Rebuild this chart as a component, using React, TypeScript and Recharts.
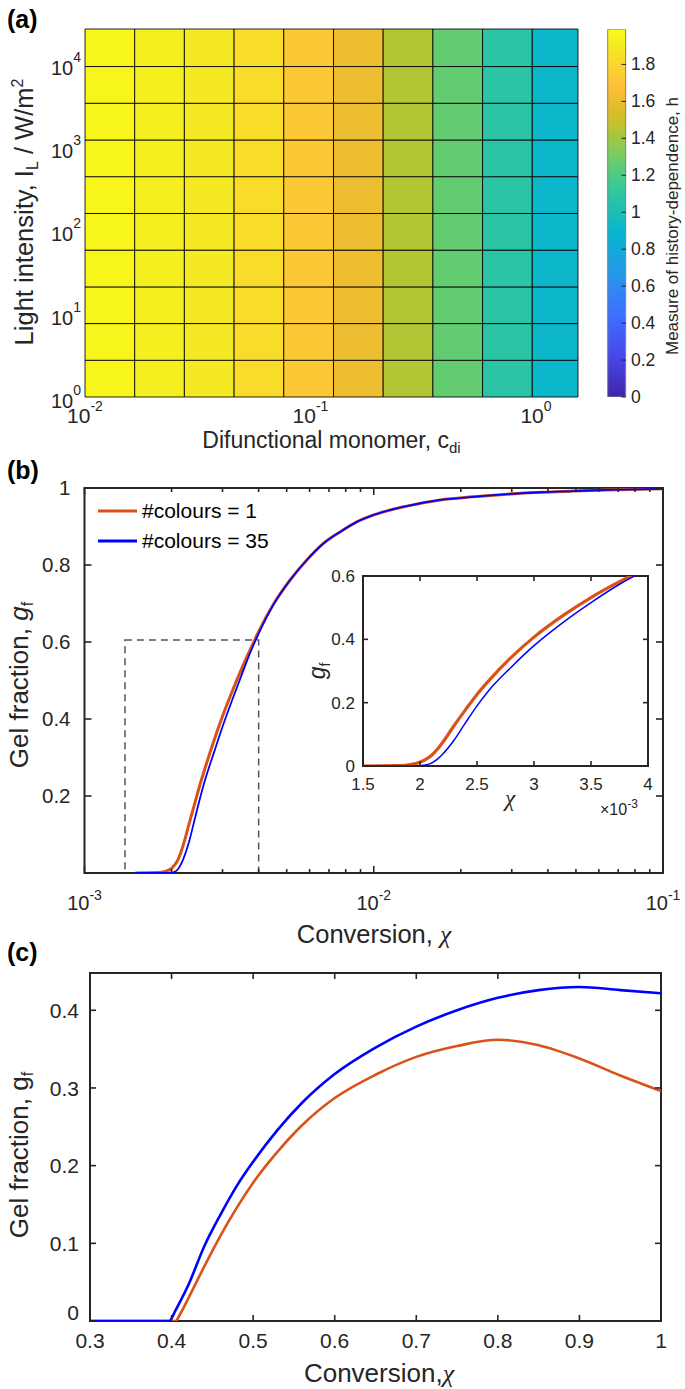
import React from "react";
import {
  ScatterChart,
  Scatter,
  BarChart,
  Bar,
  LineChart,
  Line,
  XAxis,
  YAxis,
  ReferenceArea,
  Legend,
  Label,
} from "recharts";

const SANS = '"Liberation Sans", Arial, Helvetica, sans-serif';
const SERIF = '"Liberation Serif", "DejaVu Serif", serif';
const INK = "#262626";
const ORANGE = "#d95319";
const BLUE = "#0000ff";

// ---------- (a) history-dependence map ----------
const cdiEdges = [0.01, 0.01661, 0.02759, 0.04583, 0.07613, 0.1265, 0.2101, 0.349, 0.5797, 0.9629, 1.536];
const intensityEdges = [1, 2.76, 7.62, 21.0, 58.1, 160, 443, 1222, 3373, 9311, 26300];
const hByColumn = [1.96, 1.926, 1.895, 1.83, 1.73, 1.61, 1.44, 1.258, 1.075, 0.905];
const hMax = 1.99;
const cdiTicks = [0.01, 0.1, 1];
const cdiTickExps = ["-2", "-1", "0"];
const intensityTicks = [1, 10, 100, 1000, 10000];
const intensityTickExps = ["0", "1", "2", "3", "4"];
const hTicks = [0, 0.2, 0.4, 0.6, 0.8, 1, 1.2, 1.4, 1.6, 1.8];
const hTickLabels = ["0", "0.2", "0.4", "0.6", "0.8", "1", "1.2", "1.4", "1.6", "1.8"];

// ---------- (b) gel fraction vs conversion ----------
const chiB = [
  0.0015, 0.0018, 0.0019, 0.002, 0.00205, 0.0021, 0.00215, 0.0022, 0.0023, 0.0024, 0.0025,
  0.0026, 0.0028, 0.003, 0.00325, 0.0035, 0.00375, 0.004, 0.0045, 0.00514, 0.00587, 0.0067,
  0.00765, 0.00874, 0.01, 0.013, 0.017, 0.022, 0.029, 0.038, 0.049, 0.064, 0.1,
];
const gfOneB = [
  0, 0.001, 0.004, 0.012, 0.021, 0.033, 0.052, 0.075, 0.128, 0.178, 0.226,
  0.268, 0.343, 0.407, 0.474, 0.532, 0.582, 0.627, 0.698, 0.761, 0.813, 0.856,
  0.886, 0.912, 0.93, 0.953, 0.969, 0.977, 0.984, 0.989, 0.992, 0.995, 0.998,
];
const gfManyB = [
  0, 0, 0, 0.001, 0.003, 0.009, 0.021, 0.038, 0.082, 0.137, 0.19,
  0.237, 0.312, 0.38, 0.452, 0.516, 0.574, 0.622, 0.697, 0.761, 0.813, 0.856,
  0.886, 0.912, 0.93, 0.953, 0.969, 0.977, 0.984, 0.989, 0.992, 0.995, 0.998,
];
const chiBTicks = [
  0.001, 0.002, 0.003, 0.004, 0.005, 0.006, 0.007, 0.008, 0.009,
  0.01, 0.02, 0.03, 0.04, 0.05, 0.06, 0.07, 0.08, 0.09, 0.1,
];
const chiBMajor = [0.001, 0.01, 0.1];
const chiBMajorExps = ["-3", "-2", "-1"];
const gfBTicks = [0.2, 0.4, 0.6, 0.8, 1];
const gfBTickLabels = ["0.2", "0.4", "0.6", "0.8", "1"];
const zoomChi = [0.00138, 0.004];
const zoomGf = [0, 0.605];
const insetChiTicks = [0.0015, 0.002, 0.0025, 0.003, 0.0035, 0.004];
const insetChiLabels = ["1.5", "2", "2.5", "3", "3.5", "4"];
const insetGfTicks = [0, 0.2, 0.4, 0.6];
const insetGfLabels = ["0", "0.2", "0.4", "0.6"];
const seriesNames = ["#colours = 1", "#colours = 35"];

// ---------- (c) ----------
const chiC = [0.3, 0.39, 0.397, 0.405, 0.41, 0.42, 0.44, 0.46, 0.48, 0.5, 0.53, 0.56, 0.6, 0.65, 0.7, 0.75, 0.8, 0.85, 0.9, 0.95, 1.0];
const gfManyC = [0, 0, 0, 0.014, 0.024, 0.045, 0.096, 0.137, 0.174, 0.205, 0.246, 0.281, 0.318, 0.352, 0.379, 0.4, 0.416, 0.426, 0.43, 0.426, 0.422];
const gfOneC = [0, 0, 0, 0, 0.008, 0.028, 0.07, 0.11, 0.146, 0.178, 0.218, 0.252, 0.287, 0.317, 0.34, 0.354, 0.362, 0.355, 0.338, 0.316, 0.296];
const chiCTicks = [0.3, 0.4, 0.5, 0.6, 0.7, 0.8, 0.9, 1];
const chiCLabels = ["0.3", "0.4", "0.5", "0.6", "0.7", "0.8", "0.9", "1"];
const gfCTicks = [0, 0.1, 0.2, 0.3, 0.4];
const gfCLabels = ["0", "0.1", "0.2", "0.3", "0.4"];

// MATLAB parula colour stops
const parulaStops: [number, string][] = [
  [0, "#3e26a8"],
  [0.111, "#4747eb"],
  [0.222, "#3e6fff"],
  [0.333, "#2796eb"],
  [0.444, "#08b5d0"],
  [0.556, "#31c69f"],
  [0.619, "#57cc7a"],
  [0.667, "#81cc59"],
  [0.73, "#b9c431"],
  [0.778, "#dcbd29"],
  [0.841, "#febe3c"],
  [0.889, "#fccf30"],
  [0.952, "#f5e924"],
  [1, "#f9fb15"],
];

function rgb(h: string) {
  return [1, 3, 5].map((k) => parseInt(h.slice(k, k + 2), 16));
}

function parula(t: number) {
  const v = Math.max(0, Math.min(1, t));
  for (let k = 1; k < parulaStops.length; k++) {
    const [t1, c1] = parulaStops[k];
    if (v <= t1) {
      const [t0, c0] = parulaStops[k - 1];
      const f = (v - t0) / (t1 - t0);
      const a = rgb(c0);
      const b = rgb(c1);
      return `rgb(${a.map((q, n) => Math.round(q + (b[n] - q) * f)).join(",")})`;
    }
  }
  return parulaStops[parulaStops.length - 1][1];
}

const cells = hByColumn.flatMap((h, i) =>
  intensityEdges.slice(0, -1).map((lo, j) => ({
    x0: cdiEdges[i],
    x1: cdiEdges[i + 1],
    y0: lo,
    y1: intensityEdges[j + 1],
    x: Math.sqrt(cdiEdges[i] * cdiEdges[i + 1]),
    y: Math.sqrt(lo * intensityEdges[j + 1]),
    h,
  }))
);

const dataB = chiB.map((c, i) => ({ chi: c, one: gfOneB[i], many: gfManyB[i] }));
const dataC = chiC.map((c, i) => ({ chi: c, one: gfOneC[i], many: gfManyC[i] }));

// ---------- tick renderers ----------
function PowerTick({ x = 0, y = 0, payload, vals, exps, side }: any) {
  const i = vals.indexOf(payload?.value);
  if (i < 0) return null;
  if (side === "x") {
    return (
      <text x={x} y={y + 26} textAnchor="middle" fontFamily={SANS} fontSize={21} fill={INK}>
        10<tspan dy={-12} fontSize={14}>{exps[i]}</tspan>
      </text>
    );
  }
  return (
    <text x={x - 4} y={y + 11} textAnchor="end" fontFamily={SANS} fontSize={20} fill={INK}>
      10<tspan dy={-13} fontSize={14}>{exps[i]}</tspan>
    </text>
  );
}

function InTickX({ x = 0, y = 0, payload, vals, labs, plotSpan, tickLen, minorLen, gapPx, fs, isPow }: any) {
  const i = vals.indexOf(payload?.value);
  const l = i >= 0 ? tickLen : minorLen;
  return (
    <g>
      <line x1={x} y1={y} x2={x} y2={y - l} stroke={INK} strokeWidth={1.6} />
      <line x1={x} y1={y - plotSpan} x2={x} y2={y - plotSpan + l} stroke={INK} strokeWidth={1.6} />
      {i >= 0 && (
        <text x={x} y={y + gapPx} textAnchor="middle" fontFamily={SANS} fontSize={fs} fill={INK}>
          {isPow ? (
            <>
              10<tspan dy={-10} fontSize={14}>{labs[i]}</tspan>
            </>
          ) : (
            labs[i]
          )}
        </text>
      )}
    </g>
  );
}

function InTickY({ x = 0, y = 0, payload, vals, labs, plotSpan, tickLen, gapPx, fs, lift = 0 }: any) {
  const i = vals.indexOf(payload?.value);
  return (
    <g>
      <line x1={x} y1={y} x2={x + tickLen} y2={y} stroke={INK} strokeWidth={1.6} />
      <line x1={x + plotSpan} y1={y} x2={x + plotSpan - tickLen} y2={y} stroke={INK} strokeWidth={1.6} />
      {i >= 0 && (
        <text
          x={x - gapPx}
          y={y + fs * 0.36 - (payload.value === 0 ? lift : 0)}
          textAnchor="end"
          fontFamily={SANS}
          fontSize={fs}
          fill={INK}
        >
          {labs[i]}
        </text>
      )}
    </g>
  );
}

function ColorbarTick({ x = 0, y = 0, payload }: any) {
  const i = hTicks.indexOf(payload?.value);
  return (
    <g>
      <line x1={x} y1={y} x2={x - 4.5} y2={y} stroke={INK} strokeWidth={1} />
      <text x={x + 5} y={y + 6} fontFamily={SANS} fontSize={17.5} fill={INK}>
        {hTickLabels[i]}
      </text>
    </g>
  );
}

function LegendBox({ payload }: any) {
  return (
    <div style={{ fontFamily: SANS, fontSize: 21, color: "#000" }}>
      {(payload ?? []).map((p: any) => (
        <div key={p.value} style={{ display: "flex", alignItems: "center", height: 30 }}>
          <svg width={46} height={10}>
            <line x1={2} y1={5} x2={41} y2={5} stroke={p.color} strokeWidth={3} />
          </svg>
          <span>{p.value}</span>
        </div>
      ))}
    </div>
  );
}

function HeatMap() {
  return (
    <ScatterChart
      width={600}
      height={460}
      margin={{ top: 29, right: 22, bottom: 23, left: 25 }}
      style={{ position: "absolute", left: 0, top: 0 }}
    >
      <XAxis
        type="number"
        dataKey="x"
        scale="log"
        domain={[cdiEdges[0], cdiEdges[cdiEdges.length - 1]]}
        allowDataOverflow
        ticks={cdiTicks}
        interval={0}
        height={40}
        axisLine={false}
        tickLine={false}
        tickSize={0}
        tickMargin={0}
        tick={<PowerTick vals={cdiTicks} exps={cdiTickExps} side="x" />}
      >
        <Label
          content={() => (
            <text x={331.5} y={448} textAnchor="middle" fontFamily={SANS} fontSize={23} fill={INK}>
              Difunctional monomer, c<tspan dy={5} fontSize={15}>di</tspan>
            </text>
          )}
        />
      </XAxis>
      <YAxis
        type="number"
        dataKey="y"
        scale="log"
        domain={[intensityEdges[0], intensityEdges[intensityEdges.length - 1]]}
        allowDataOverflow
        ticks={intensityTicks}
        interval={0}
        width={60}
        axisLine={false}
        tickLine={false}
        tickSize={0}
        tickMargin={0}
        tick={<PowerTick vals={intensityTicks} exps={intensityTickExps} side="y" />}
      >
        <Label
          content={() => (
            <text
              x={33}
              y={212}
              transform="rotate(-90 33 212)"
              textAnchor="middle"
              fontFamily={SANS}
              fontSize={25.5}
              fill={INK}
            >
              Light intensity, I<tspan dy={5} fontSize={16}>L</tspan>
              <tspan dy={-5}> / W/m</tspan>
              <tspan dy={-10} fontSize={16}>2</tspan>
            </text>
          )}
        />
      </YAxis>
      {cells.map((c, k) => (
        <ReferenceArea
          key={k}
          x1={c.x0}
          x2={c.x1}
          y1={c.y0}
          y2={c.y1}
          fill={parula(c.h / hMax)}
          fillOpacity={1}
          stroke="#000"
          strokeOpacity={0.85}
          strokeWidth={1}
          ifOverflow="visible"
        />
      ))}
      <Scatter data={cells} isAnimationActive={false} shape={() => <g />} />
    </ScatterChart>
  );
}

function ColourBar() {
  return (
    <BarChart
      width={90}
      height={430}
      data={[{ name: "h", top: hMax }]}
      barCategoryGap={0}
      margin={{ top: 29.3, right: 24, bottom: 33, left: 7.7 }}
      style={{ position: "absolute", left: 600, top: 0 }}
    >
      <defs>
        <linearGradient id="parulaGrad" x1="0" y1="1" x2="0" y2="0">
          {parulaStops.map(([t, c]) => (
            <stop key={t} offset={t} stopColor={c} />
          ))}
        </linearGradient>
      </defs>
      <XAxis dataKey="name" hide />
      <YAxis
        orientation="right"
        type="number"
        domain={[0, hMax]}
        allowDataOverflow
        ticks={hTicks}
        interval={0}
        width={40}
        axisLine={false}
        tickLine={false}
        tickSize={0}
        tickMargin={0}
        tick={<ColorbarTick />}
      >
        <Label
          content={() => (
            <text
              x={78}
              y={226}
              transform="rotate(-90 78 226)"
              textAnchor="middle"
              fontFamily={SANS}
              fontSize={17}
              fill={INK}
            >
              Measure of history-dependence, h
            </text>
          )}
        />
      </YAxis>
      <Bar dataKey="top" fill="url(#parulaGrad)" stroke="#808080" strokeWidth={1} isAnimationActive={false} />
    </BarChart>
  );
}

function PanelB() {
  return (
    <LineChart
      width={685}
      height={500}
      data={dataB}
      margin={{ top: 28, right: 22, bottom: 37, left: 24.5 }}
      style={{ position: "absolute", left: 0, top: 460 }}
    >
      <XAxis
        type="number"
        dataKey="chi"
        scale="log"
        domain={[0.001, 0.1]}
        allowDataOverflow
        ticks={chiBTicks}
        interval={0}
        height={50}
        axisLine={false}
        tickLine={false}
        tickSize={0}
        tickMargin={0}
        tick={
          <InTickX vals={chiBMajor} labs={chiBMajorExps} plotSpan={385} tickLen={7} minorLen={4} gapPx={37} fs={20} isPow />
        }
      >
        <Label
          content={() => (
            <text x={374} y={483} textAnchor="middle" fontFamily={SANS} fontSize={25.5} fill={INK}>
              Conversion,{" "}
              <tspan fontFamily={SERIF} fontStyle="italic">
                χ
              </tspan>
            </text>
          )}
        />
      </XAxis>
      <YAxis
        type="number"
        domain={[0, 1]}
        allowDataOverflow
        ticks={gfBTicks}
        interval={0}
        width={60}
        axisLine={false}
        tickLine={false}
        tickSize={0}
        tickMargin={0}
        tick={<InTickY vals={gfBTicks} labs={gfBTickLabels} plotSpan={578.5} tickLen={7} gapPx={14} fs={20.5} />}
      >
        <Label
          content={() => (
            <text
              x={28}
              y={225}
              transform="rotate(-90 28 225)"
              textAnchor="middle"
              fontFamily={SANS}
              fontSize={26}
              fill={INK}
            >
              Gel fraction,{" "}
              <tspan fontStyle="italic">g</tspan>
              <tspan dy={5} fontSize={16}>
                f
              </tspan>
            </text>
          )}
        />
      </YAxis>
      <ReferenceArea
        x1={zoomChi[0]}
        x2={zoomChi[1]}
        y1={zoomGf[0]}
        y2={zoomGf[1]}
        fill="none"
        stroke="#555"
        strokeWidth={1.5}
        strokeDasharray="7 5"
        ifOverflow="visible"
      />
      <ReferenceArea x1={0.001} x2={0.1} y1={0} y2={1} fill="none" stroke={INK} strokeWidth={2} ifOverflow="visible" />
      <Line dataKey="one" name={seriesNames[0]} type="monotone" stroke={ORANGE} strokeWidth={3} dot={false} isAnimationActive={false} />
      <Line dataKey="many" name={seriesNames[1]} type="monotone" stroke={BLUE} strokeWidth={1.8} dot={false} isAnimationActive={false} />
      <Legend
        layout="vertical"
        align="center"
        verticalAlign="middle"
        content={<LegendBox />}
        wrapperStyle={{ left: 96, top: 36, width: 260 }}
      />
    </LineChart>
  );
}

function InsetB() {
  return (
    <LineChart
      width={400}
      height={280}
      data={dataB}
      margin={{ top: 26, right: 32, bottom: 24, left: 33 }}
      style={{ position: "absolute", left: 280, top: 550 }}
    >
      <XAxis
        type="number"
        dataKey="chi"
        domain={[0.0015, 0.004]}
        allowDataOverflow
        ticks={insetChiTicks}
        interval={0}
        height={40}
        axisLine={false}
        tickLine={false}
        tickSize={0}
        tickMargin={0}
        tick={<InTickX vals={insetChiTicks} labs={insetChiLabels} plotSpan={190} tickLen={5} minorLen={5} gapPx={24} fs={17} />}
      >
        <Label
          content={() => (
            <g>
              <text x={230} y={256} textAnchor="middle" fontFamily={SERIF} fontStyle="italic" fontSize={23} fill={INK}>
                χ
              </text>
              <text x={320} y={265} fontFamily={SANS} fontSize={16} fill={INK}>
                ×10<tspan dy={-7} fontSize={12}>-3</tspan>
              </text>
            </g>
          )}
        />
      </XAxis>
      <YAxis
        type="number"
        domain={[0, 0.6]}
        allowDataOverflow
        ticks={insetGfTicks}
        interval={0}
        width={50}
        axisLine={false}
        tickLine={false}
        tickSize={0}
        tickMargin={0}
        tick={<InTickY vals={insetGfTicks} labs={insetGfLabels} plotSpan={285} tickLen={5} gapPx={8} fs={17} />}
      >
        <Label
          content={() => (
            <text
              x={45}
              y={121}
              transform="rotate(-90 45 121)"
              textAnchor="middle"
              fontFamily={SANS}
              fontSize={23}
              fill={INK}
            >
              <tspan fontStyle="italic">g</tspan>
              <tspan dy={5} fontSize={14}>
                f
              </tspan>
            </text>
          )}
        />
      </YAxis>
      <ReferenceArea x1={0.0015} x2={0.004} y1={0} y2={0.6} fill="#fff" fillOpacity={1} stroke={INK} strokeWidth={2} ifOverflow="visible" />
      <Line dataKey="one" type="monotone" stroke={ORANGE} strokeWidth={3.2} dot={false} isAnimationActive={false} />
      <Line dataKey="many" type="monotone" stroke={BLUE} strokeWidth={1.5} dot={false} isAnimationActive={false} />
    </LineChart>
  );
}

function PanelC() {
  return (
    <LineChart
      width={685}
      height={439}
      data={dataC}
      margin={{ top: 23, right: 24, bottom: 18, left: 30 }}
      style={{ position: "absolute", left: 0, top: 950 }}
    >
      <XAxis
        type="number"
        dataKey="chi"
        domain={[0.3, 1]}
        allowDataOverflow
        ticks={chiCTicks}
        interval={0}
        height={50}
        axisLine={false}
        tickLine={false}
        tickSize={0}
        tickMargin={0}
        tick={<InTickX vals={chiCTicks} labs={chiCLabels} plotSpan={348} tickLen={6} minorLen={6} gapPx={27} fs={21} />}
      >
        <Label
          content={() => (
            <text x={379} y={432} textAnchor="middle" fontFamily={SANS} fontSize={26} fill={INK}>
              Conversion,
              <tspan fontFamily={SERIF} fontStyle="italic">
                χ
              </tspan>
            </text>
          )}
        />
      </XAxis>
      <YAxis
        type="number"
        domain={[0, 0.448]}
        allowDataOverflow
        ticks={gfCTicks}
        interval={0}
        width={60}
        axisLine={false}
        tickLine={false}
        tickSize={0}
        tickMargin={0}
        tick={<InTickY vals={gfCTicks} labs={gfCLabels} plotSpan={571} tickLen={6} gapPx={11} fs={21} lift={9} />}
      >
        <Label
          content={() => (
            <text
              x={28}
              y={205}
              transform="rotate(-90 28 205)"
              textAnchor="middle"
              fontFamily={SANS}
              fontSize={26}
              fill={INK}
            >
              Gel fraction, g
              <tspan dy={5} fontSize={16}>
                f
              </tspan>
            </text>
          )}
        />
      </YAxis>
      <ReferenceArea x1={0.3} x2={1} y1={0} y2={0.448} fill="none" stroke={INK} strokeWidth={2} ifOverflow="visible" />
      <Line dataKey="one" type="monotone" stroke={ORANGE} strokeWidth={2.6} dot={false} isAnimationActive={false} />
      <Line dataKey="many" type="monotone" stroke={BLUE} strokeWidth={2.6} dot={false} isAnimationActive={false} />
    </LineChart>
  );
}

export default function App() {
  return (
    <div
      style={{
        position: "absolute",
        left: 0,
        top: 0,
        width: 685,
        height: 1389,
        background: "#fff",
        overflow: "hidden",
      }}
    >
      <HeatMap />
      <ColourBar />
      <PanelB />
      <InsetB />
      <PanelC />
      <svg width={685} height={1389} style={{ position: "absolute", left: 0, top: 0, pointerEvents: "none" }}>
        <text x={7} y={28} fontFamily={SANS} fontWeight="bold" fontSize={25} fill="#000">
          (a)
        </text>
        <text x={7} y={479} fontFamily={SANS} fontWeight="bold" fontSize={25} fill="#000">
          (b)
        </text>
        <text x={7} y={961} fontFamily={SANS} fontWeight="bold" fontSize={25} fill="#000">
          (c)
        </text>
      </svg>
    </div>
  );
}
